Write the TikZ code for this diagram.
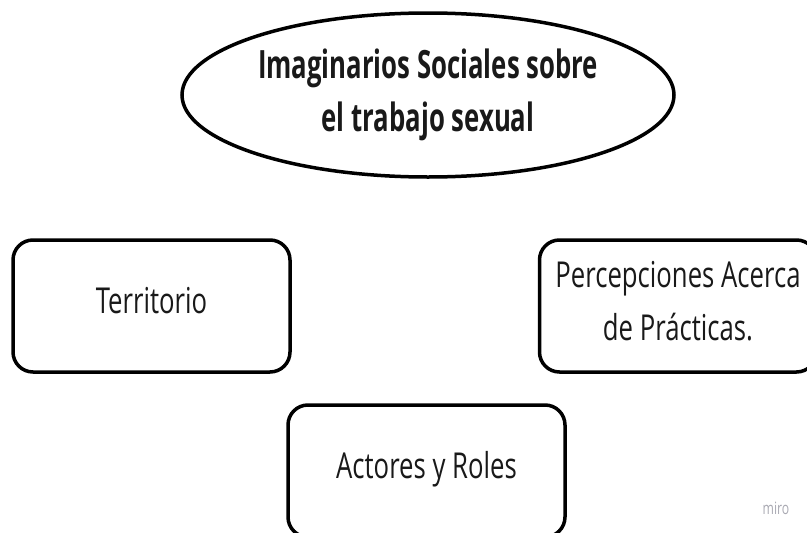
\documentclass[tikz,border=0pt]{standalone}
\usepackage{fontspec}
\setmainfont{Open Sans}[FakeStretch=0.72]
\newfontfamily\titlefont{Open Sans}[FakeStretch=0.66]
\usepackage{tikz}
\usetikzlibrary{shapes}
\definecolor{mirogray}{HTML}{A9A9B2}

\begin{document}
\begin{tikzpicture}[x=1pt,y=-1pt]
\useasboundingbox (0,0) rectangle (807,533);
%\tikzstyle{topic}=[ellipse,draw,line width=3.5pt]
\node[ellipse,draw,line width=3.5pt,minimum width=492pt,minimum height=164pt,inner sep=0pt,
      text=black!90,align=center,font=\titlefont\bfseries\fontsize{39}{53}\selectfont]
      (S) at (428,95) {Imaginarios Sociales sobre\\el trabajo sexual};
\begin{scope}[every node/.style={draw,line width=3.5pt,rounded corners=20pt,
      minimum width=277pt,minimum height=132pt,inner sep=0pt,text=black!90,
      align=center,font=\fontsize{35.7}{53}\selectfont}]
    \node (T) at (151.5,306) [text height=25pt,text depth=11pt] {Territorio};
    \node (P) at (678,306) {Percepciones Acerca\\de Prácticas.\rule[-10pt]{0pt}{0pt}};
    \node (A) at (426.5,471) [text height=25pt,text depth=11pt] {Actores y Roles};
\end{scope}
	\node[text=mirogray,font=\fontsize{17}{20}\selectfont] (M) at (776,508) {miro};
\end{tikzpicture}
\end{document}
